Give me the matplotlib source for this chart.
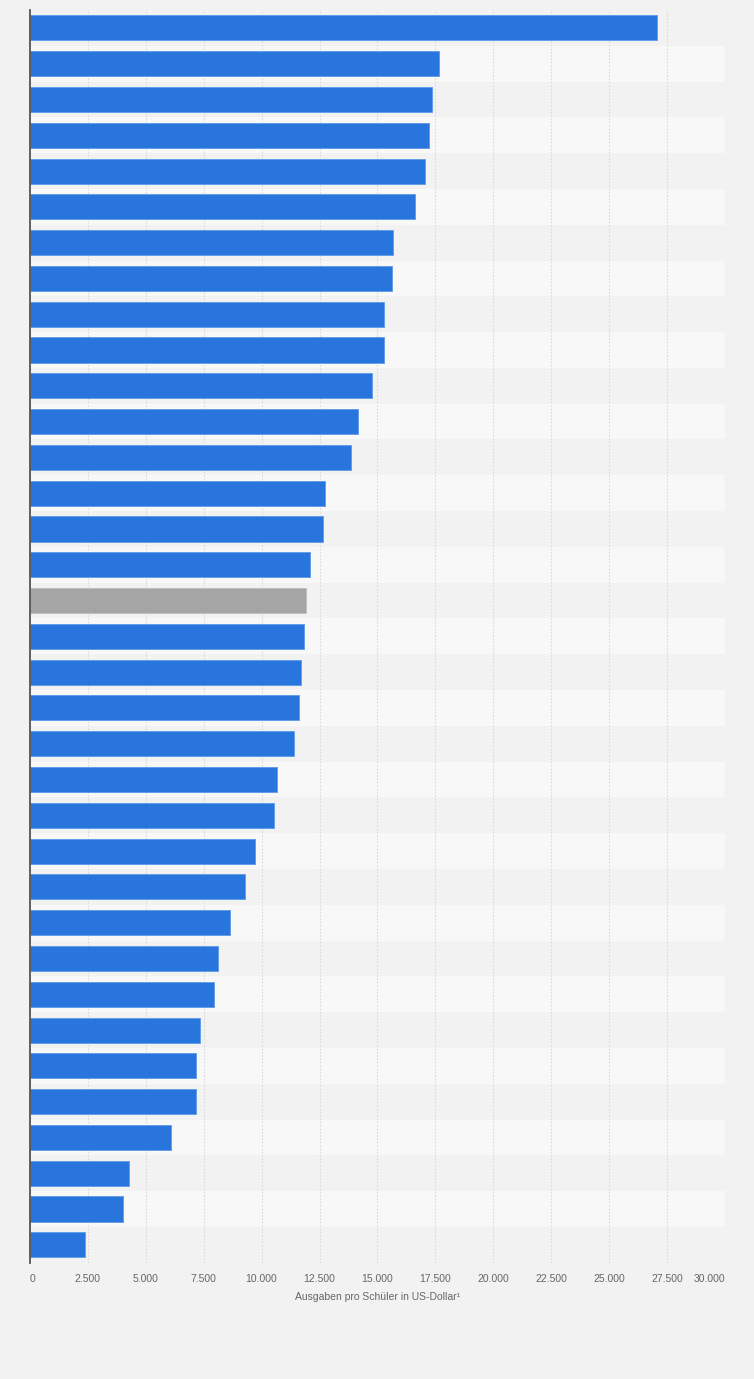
import numpy as np
import matplotlib
matplotlib.use("Agg")
import matplotlib.pyplot as plt

# Ausgaben pro Schüler (US-Dollar), sortiert absteigend; Kategorienamen sind im Original ausgeblendet
values = [27050, 17670, 17370, 17240, 17030, 16610, 15690, 15620, 15300, 15260,
          14760, 14140, 13840, 12720, 12670, 12110, 11900, 11850, 11680, 11600,
          11380, 10650, 10520, 9730, 9270, 8660, 8100, 7930, 7330, 7160,
          7160, 6110, 4300, 4010, 2400]
highlight = [16]  # grauer Balken (Durchschnitt)
xticks = np.arange(0, 30001, 2500)
xticklabels = ["0", "2.500", "5.000", "7.500", "10.000", "12.500", "15.000",
               "17.500", "20.000", "22.500", "25.000", "27.500", "30.000"]
xlabel = "Ausgaben pro Schüler in US-Dollar¹"

plt.rcParams["font.family"] = ["Liberation Sans Narrow", "Liberation Sans", "DejaVu Sans"]

BG = "#f2f2f2"
BLUE = "#2876dd"
GREY = "#a5a5a5"

W, H = 754, 1379
fig = plt.figure(figsize=(W / 100, H / 100), dpi=100, facecolor=BG)
ax = fig.add_axes([29.7 / W, (H - 1262.7) / H, (725.3 - 29.7) / W, (1262.7 - 10) / H])
ax.set_facecolor(BG)

n = len(values)
y = np.arange(n)
for i in range(n):
    ax.axhspan(i - 0.5, i + 0.5, color=BG if i % 2 == 0 else "#f8f8f8", lw=0, zorder=0)

colors = [GREY if i in highlight else BLUE for i in range(n)]
edges = ["#bdbdbd" if i in highlight else "#5d9ae6" for i in range(n)]
ax.barh(y, values, height=0.7, color=colors, edgecolor=edges, linewidth=0.6, zorder=3)

ax.set_ylim(n - 0.5, -0.5)
ax.set_xlim(0, 30000)
ax.set_yticks([])
ax.set_xticks(xticks)
ax.set_xticklabels(xticklabels, fontsize=7.5, color="#666666")
labs = ax.get_xticklabels()
labs[0].set_ha("left")
labs[-1].set_ha("right")
ax.tick_params(axis="x", length=0, pad=8)
ax.grid(axis="x", color="#dadada", ls=(0, (1.5, 1.5)), lw=0.8, zorder=1)
ax.set_axisbelow(True)
for s in ["top", "right", "bottom"]:
    ax.spines[s].set_visible(False)
ax.spines["left"].set_color("#555555")
ax.spines["left"].set_linewidth(1.3)
ax.spines["left"].set_zorder(4)
ax.set_xlabel(xlabel, fontsize=7.5, color="#666666", labelpad=6)

fig.savefig("out.png", dpi=100, facecolor=BG)
